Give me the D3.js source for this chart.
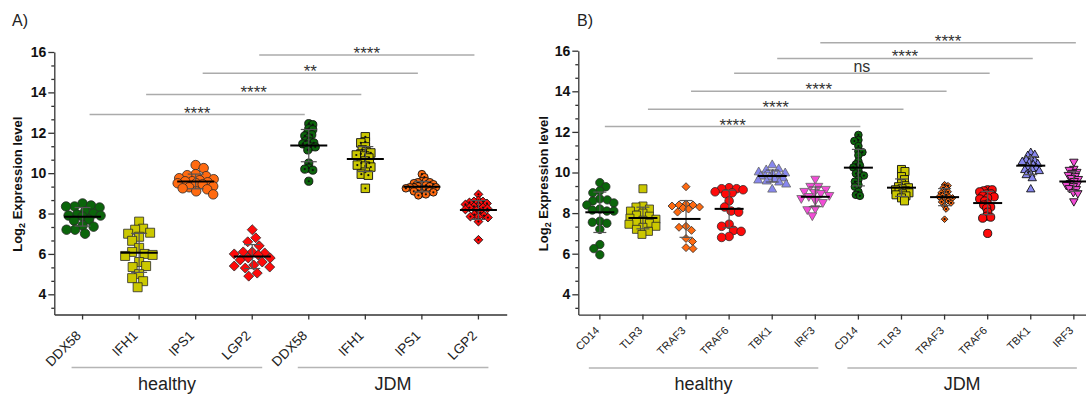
<!DOCTYPE html>
<html>
<head>
<meta charset="utf-8">
<script src="https://cdn.jsdelivr.net/npm/d3@7"></script>
<style>
  body { margin: 0; background: #fff; }
  svg { display: block; font-family: Arial, "Liberation Sans", sans-serif; }
</style>
</head>
<body>
<svg id="chart" width="1086" height="394"></svg>
<script>
// ---- data (log2 expression) ----
const genesA = ["DDX58", "IFH1", "IPS1", "LGP2"];
const genesB = ["CD14", "TLR3", "TRAF3", "TRAF6", "TBK1", "IRF3"];
const groupNames = ["healthy", "JDM"];
const yTicks = [4, 6, 8, 10, 12, 14, 16];

const healthyA = [
  [8.5, 8.4, 8.35, 8.35, 8.3, 8.1, 8.0, 7.95, 7.9, 7.9, 7.85, 7.7, 7.65, 7.4, 7.35, 7.2, 7.2, 7.0],
  [7.6, 7.25, 7.2, 7.05, 7.0, 6.85, 6.65, 6.3, 6.1, 6.0, 5.95, 5.9, 5.6, 5.4, 5.35, 5.0, 4.8, 4.65, 4.35],
  [10.4, 10.25, 9.95, 9.9, 9.85, 9.75, 9.7, 9.65, 9.6, 9.6, 9.55, 9.5, 9.5, 9.45, 9.35, 9.3, 9.25, 9.2, 9.1, 8.95],
  [7.2, 6.8, 6.6, 6.4, 6.1, 6.1, 6.05, 6.0, 5.95, 5.8, 5.8, 5.7, 5.6, 5.45, 5.4, 5.35, 5.3, 5.05, 4.9]
];
const jdmA = [
  [12.45, 12.4, 12.2, 12.15, 12.0, 11.9, 11.85, 11.75, 11.6, 11.55, 11.5, 11.45, 11.4, 11.3, 11.3, 11.15, 10.5, 10.25, 10.15, 10.2, 9.6],
  [11.8, 11.55, 11.5, 11.3, 11.15, 11.05, 11.0, 10.95, 10.9, 10.85, 10.75, 10.6, 10.5, 10.5, 10.4, 10.35, 10.3, 10.05, 9.95, 9.9, 9.25],
  [9.95, 9.8, 9.6, 9.6, 9.55, 9.55, 9.5, 9.45, 9.4, 9.4, 9.35, 9.35, 9.3, 9.3, 9.3, 9.25, 9.2, 9.2, 9.15, 9.1, 9.1, 9.05, 9.0, 8.95, 8.9],
  [8.95, 8.65, 8.6, 8.6, 8.55, 8.5, 8.45, 8.35, 8.35, 8.3, 8.3, 8.25, 8.2, 8.15, 8.05, 7.95, 7.9, 7.85, 7.85, 7.8, 7.6, 6.7]
];
const healthyB = [
  [9.5, 9.3, 9.1, 9.0, 8.7, 8.65, 8.6, 8.5, 8.4, 8.2, 8.15, 8.1, 8.1, 7.6, 7.55, 7.5, 7.2, 6.45, 6.25, 5.95],
  [9.2, 8.35, 8.3, 8.2, 8.1, 8.0, 7.9, 7.85, 7.75, 7.7, 7.65, 7.55, 7.5, 7.45, 7.35, 7.3, 7.2, 7.1, 6.95],
  [9.3, 8.45, 8.4, 8.4, 8.35, 8.3, 8.25, 8.2, 8.05, 7.35, 7.3, 7.15, 6.75, 6.6, 6.3, 6.25],
  [9.25, 9.2, 9.2, 9.15, 9.05, 9.0, 8.95, 8.6, 8.3, 8.1, 8.05, 7.45, 7.35, 7.15, 7.1, 6.85, 6.8],
  [10.4, 10.2, 10.15, 10.05, 10.0, 9.95, 9.9, 9.85, 9.85, 9.8, 9.75, 9.7, 9.65, 9.6, 9.55, 9.45, 9.2],
  [9.65, 9.3, 9.3, 9.15, 9.05, 9.0, 8.95, 8.85, 8.8, 8.7, 8.6, 8.5, 8.2, 8.15, 7.85]
];
const jdmB = [
  [11.85, 11.6, 11.55, 11.3, 11.05, 11.0, 10.85, 10.55, 10.4, 10.35, 10.25, 10.1, 9.95, 9.9, 9.85, 9.65, 9.55, 9.4, 9.3, 9.05, 8.9, 8.85],
  [10.15, 10.05, 9.8, 9.65, 9.45, 9.35, 9.3, 9.25, 9.2, 9.15, 9.1, 9.05, 9.0, 8.95, 8.9, 8.85, 8.75, 8.6],
  [9.4, 9.35, 9.25, 9.2, 9.05, 9.05, 9.0, 8.9, 8.85, 8.8, 8.8, 8.75, 8.65, 8.6, 8.55, 8.5, 8.35, 8.2, 7.7],
  [9.15, 9.15, 9.1, 9.05, 8.95, 8.95, 8.85, 8.8, 8.75, 8.7, 8.6, 8.45, 8.4, 8.3, 8.25, 8.05, 7.85, 7.8, 7.75, 7.0],
  [11.0, 10.9, 10.85, 10.7, 10.65, 10.6, 10.55, 10.5, 10.45, 10.4, 10.3, 10.25, 10.2, 10.15, 10.1, 9.95, 9.9, 9.75, 9.2],
  [10.5, 10.15, 10.1, 10.0, 9.95, 9.85, 9.8, 9.7, 9.65, 9.55, 9.45, 9.4, 9.35, 9.3, 9.2, 9.15, 9.0, 8.95, 8.55]
];

// significance brackets: healthy gene vs the same gene in JDM
const sigA = [
  { gene: "DDX58", level: 12.9, label: "****" },
  { gene: "IFH1", level: 13.9, label: "****" },
  { gene: "IPS1", level: 14.95, label: "**" },
  { gene: "LGP2", level: 15.85, label: "****" }
];
const sigB = [
  { gene: "CD14", level: 12.26, label: "****" },
  { gene: "TLR3", level: 13.11, label: "****" },
  { gene: "TRAF3", level: 14.0, label: "****" },
  { gene: "TRAF6", level: 14.89, label: "ns" },
  { gene: "TBK1", level: 15.62, label: "****" },
  { gene: "IRF3", level: 16.39, label: "****" }
];

// ---- styles ----
const GREEN = "#0b650b", YELLOW = "#cbc800", ORANGE = "#ff6a10", RED = "#ff0a0a", BLUE = "#8787ee", PINK = "#f24cd6";

const panels = [
  {
    letter: "A)", letterX: 12, genes: genesA, healthy: healthyA, jdm: jdmA, sig: sigA,
    colors: [GREEN, YELLOW, ORANGE, RED],
    shapes: ["circle", "square", "circle", "diamond"],
    jdmDot: [true, true, true, true],
    hSize: [9.5, 9, 9.5, 10], jSize: [8.2, 8.5, 7.6, 8.8],
    hWide: 18, jWide: 16, hGap: 0.88,
    left: 54.3, right: 506.7, yRange: [314.5, 52], titleX: 21.5,
    tickFont: 13.5, tickY: 333, tickDx: -4, meanW: 37, capW: 16,
    sigOff: [7, -4], groupPad: [-11, 10], groupY: 367.5
  },
  {
    letter: "B)", letterX: 577, genes: genesB, healthy: healthyB, jdm: jdmB, sig: sigB,
    colors: [GREEN, YELLOW, ORANGE, RED, BLUE, PINK],
    shapes: ["circle", "square", "diamond", "circle", "triUp", "triDown"],
    jdmDot: [true, false, true, false, false, false],
    hSize: [8.4, 8, 8, 8.6, 9, 9], jSize: [7.6, 8, 6.6, 8.2, 8.4, 8.4],
    hWide: 14, jWide: 13, hGap: 0.85,
    left: 578.3, right: 1095.4, yRange: [314.6, 50.7], titleX: 548,
    tickFont: 11, tickY: 328.5, tickDx: -2.5, meanW: 29, capW: 13,
    sigOff: [5, 2], groupPad: [-11, 3], groupY: 368
  }
];

const svg = d3.select("#chart");

function shapePath(shape, size) {
  const h = size / 2;
  if (shape === "circle") return d3.symbol(d3.symbolCircle, Math.PI * h * h)();
  if (shape === "square") return d3.symbol(d3.symbolSquare, size * size)();
  if (shape === "diamond") return `M0,${-h}L${h},0L0,${h}L${-h},0Z`;
  const t = shape === "triUp" ? 1 : -1;
  return `M0,${-t * h}L${h},${t * h * 0.75}L${-h},${t * h * 0.75}Z`;
}

// beeswarm kept within +-wide px: first free slot, else the least crowded one
function swarm(vals, y, minDist, wide) {
  const pts = vals.map(v => ({ v, py: y(v), dx: 0 }));
  const placed = [];
  pts.slice().sort((a, b) => a.py - b.py).forEach((p, i) => {
    const sgn = i % 2 ? 1 : -1;
    let best = 0, bestGap = -1;
    for (let k = 0; k <= wide * 4; k++) {
      const c = k === 0 ? 0 : (k % 2 ? sgn : -sgn) * Math.ceil(k / 2) * 0.5;
      const gap = placed.length ? d3.min(placed, q => Math.hypot(q.dx - c, q.py - p.py)) : Infinity;
      if (gap >= minDist) { best = c; bestGap = gap; break; }
      if (gap > bestGap + 0.3) { best = c; bestGap = gap; }
    }
    p.dx = best;
    placed.push(p);
  });
  return pts;
}

panels.forEach(P => {
  const keys = [];
  groupNames.forEach(g => P.genes.forEach(n => keys.push(g + "|" + n)));
  const x = d3.scaleBand().domain(keys).range([P.left, P.right]);
  const cx = k => x(k) + x.bandwidth() / 2;
  const y = d3.scaleLinear().domain([3, 16]).range(P.yRange);
  const axisY = y(3);

  const g = svg.append("g");

  // panel letter
  g.append("text").attr("x", P.letterX).attr("y", 26).attr("font-size", 16).attr("fill", "#222").text(P.letter);

  // y axis with minor ticks (every 2/3 unit)
  const minor = d3.range(1, 20).map(k => 16 - k * 2 / 3).filter(v => Math.abs(v - Math.round(v)) > 0.01);
  g.append("g").attr("transform", `translate(${P.left},0)`)
    .call(d3.axisLeft(y).tickValues(minor).tickSize(3).tickSizeOuter(0).tickFormat(""))
    .call(a => a.selectAll("line,path").attr("stroke", "#333").attr("stroke-width", 1.3));
  g.append("g").attr("transform", `translate(${P.left},0)`)
    .call(d3.axisLeft(y).tickValues(yTicks).tickSize(6).tickSizeOuter(0).tickPadding(2).tickFormat(d3.format("d")))
    .call(a => a.select(".domain").remove())
    .call(a => a.selectAll("line").attr("stroke", "#333").attr("stroke-width", 1.3))
    .call(a => a.selectAll("text").attr("font-size", 14).attr("font-weight", "bold").attr("fill", "#111")
      .attr("font-family", "Arial, 'Liberation Sans', sans-serif"));

  // y title
  const t = g.append("text").attr("transform", `translate(${P.titleX},${(P.yRange[0] + P.yRange[1]) / 2 + 1}) rotate(-90)`)
    .attr("text-anchor", "middle").attr("font-size", 13).attr("font-weight", "bold").attr("fill", "#111");
  t.append("tspan").text("Log");
  t.append("tspan").attr("font-size", 9).attr("dy", 3).text("2");
  t.append("tspan").attr("dy", -3).text(" Expression level");

  // x axis
  g.append("g").attr("transform", `translate(0,${axisY})`)
    .call(d3.axisBottom(x).tickSize(5).tickSizeOuter(0).tickFormat(""))
    .call(a => a.selectAll("line,path").attr("stroke", "#333").attr("stroke-width", 1.3));

  // rotated category labels
  g.selectAll(".xl").data(keys).join("text")
    .attr("transform", k => `translate(${cx(k) + P.tickDx},${P.tickY}) rotate(-45)`)
    .attr("text-anchor", "end").attr("dy", "0.35em")
    .attr("font-size", P.tickFont).attr("fill", "#222")
    .text(k => k.split("|")[1]);

  // group brackets
  groupNames.forEach(gn => {
    const first = cx(gn + "|" + P.genes[0]) + P.groupPad[0];
    const last = cx(gn + "|" + P.genes[P.genes.length - 1]) + P.groupPad[1];
    g.append("line").attr("x1", first).attr("x2", last).attr("y1", P.groupY).attr("y2", P.groupY)
      .attr("stroke", "#b5b5b5").attr("stroke-width", 1.5);
    g.append("text").attr("x", (first + last) / 2).attr("y", 390).attr("text-anchor", "middle")
      .attr("font-size", 18).attr("fill", "#222").text(gn);
  });

  // significance lines
  P.sig.forEach(s => {
    const x1 = cx("healthy|" + s.gene) + P.sigOff[0];
    const x2 = cx("JDM|" + s.gene) + P.sigOff[1];
    const ly = y(s.level);
    g.append("line").attr("x1", x1).attr("x2", x2).attr("y1", ly).attr("y2", ly)
      .attr("stroke", "#ababab").attr("stroke-width", 1.5);
    const ns = s.label === "ns";
    g.append("text").attr("x", (x1 + x2) / 2).attr("y", ns ? ly - 1.5 : ly + 4)
      .attr("text-anchor", "middle").attr("font-size", ns ? 16 : 17).attr("fill", "#333").text(s.label);
  });

  // scatter columns
  groupNames.forEach(gn => {
    const isJ = gn === "JDM";
    const sets = isJ ? P.jdm : P.healthy;
    P.genes.forEach((gene, i) => {
      const key = gn + "|" + gene;
      const vals = sets[i];
      const size = (isJ ? P.jSize : P.hSize)[i];
      const pts = swarm(vals, y, size * (isJ ? 0.5 : P.hGap), isJ ? P.jWide : P.hWide);
      const col = g.append("g").attr("transform", `translate(${cx(key)},0)`);
      const path = shapePath(P.shapes[i], size);
      const tri = P.shapes[i].startsWith("tri");
      col.selectAll("path").data(pts).join("path")
        .attr("d", path)
        .attr("transform", d => `translate(${d.dx},${d.py})`)
        .attr("fill", P.colors[i])
        .attr("stroke", isJ ? "#111" : (tri ? "#666" : "#2a2a2a"))
        .attr("stroke-width", isJ ? 0.9 : 0.8);
      if (isJ && P.jdmDot[i]) {
        col.selectAll("circle").data(pts).join("circle")
          .attr("cx", d => d.dx).attr("cy", d => d.py).attr("r", 1.1).attr("fill", "#111");
      }
      // mean and SD
      const m = d3.mean(vals), sd = d3.deviation(vals);
      col.append("line").attr("x1", 0).attr("x2", 0).attr("y1", y(m + sd)).attr("y2", y(m - sd))
        .attr("stroke", "#555").attr("stroke-width", 1.2);
      [m + sd, m - sd].forEach(v => col.append("line")
        .attr("x1", -P.capW / 2).attr("x2", P.capW / 2).attr("y1", y(v)).attr("y2", y(v))
        .attr("stroke", "#555").attr("stroke-width", 1.2));
      col.append("line").attr("x1", -P.meanW / 2).attr("x2", P.meanW / 2).attr("y1", y(m)).attr("y2", y(m))
        .attr("stroke", "#000").attr("stroke-width", 2);
    });
  });
});
</script>
</body>
</html>
